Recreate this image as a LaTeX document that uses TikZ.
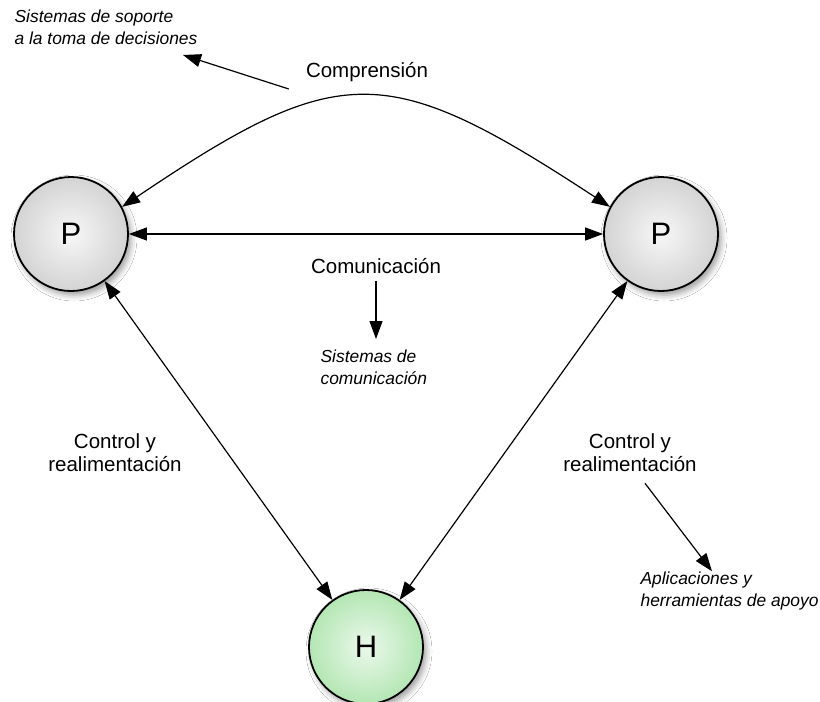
\documentclass[tikz,border=0pt]{standalone}
\usepackage{fontspec}
\setmainfont{Liberation Sans}
\usetikzlibrary{arrows.meta, shadows, shadows.blur, calc}

\definecolor{pgray}{RGB}{176,176,176}
\definecolor{hgreen}{RGB}{124,212,124}
\pgfdeclareradialshading{pball}{\pgfpoint{0bp}{0bp}}{color(0bp)=(white!90!pgray); color(50bp)=(pgray)}
\pgfdeclareradialshading{hball}{\pgfpoint{0bp}{0bp}}{color(0bp)=(white!85!hgreen); color(50bp)=(hgreen)}

\begin{document}
\begin{tikzpicture}[x=0.5pt, y=-0.5pt, >={Triangle[length=9pt,width=6.5pt]}, line width=0.6pt,
	circ/.style={circle, draw, line width=0.9pt, minimum size=57pt, inner sep=0pt, font=\fontsize{15.5}{17}\selectfont,
		blur shadow={shadow xshift=1.5pt, shadow yshift=-2pt, shadow blur radius=3pt, shadow opacity=40}},
	pnode/.style={circ, shading=pball},
	hnode/.style={circ, shading=hball},
	lbl/.style={font=\fontsize{10.25}{11.5}\selectfont, align=center},
	note/.style={font=\itshape\fontsize{8.7}{11}\selectfont, align=left, inner sep=0pt}]
		\path[use as bounding box, fill=white] (0,0) rectangle (820,702);

		\node[pnode] (pl) at (71,234) {P};
		\node[pnode] (pr) at (661,234) {P};
		\node[hnode] (h) at (366,647) {H};

		\node[lbl] (comp) at (367,72) {Comprensión};
		\node[lbl] (comm) at (376,266) {Comunicación};
		\node[lbl] (ctrll) at (115,453) {Control y\\realimentación};
		\node[lbl] (ctrlr) at (630,453) {Control y\\realimentación};
		\node[note, anchor=west] (sop) at (14,27) {Sistemas de soporte\\a la toma de decisiones};
		\node[note, anchor=west] (siscom) at (320,367) {Sistemas de\\comunicación};
		\node[note, anchor=west] (apl) at (640,591) {Aplicaciones y\\herramientas de apoyo};

		\draw[<->] (pl.28) .. controls (340,60) and (386,60) .. (pr.152);
		\draw[<->] (pl) -- (pr);
		\draw[<->] (pl) -- (h);
		\draw[<->] (pr) -- (h);

		\draw[->] ([shift={(-10,17)}]comp.west) -- ([shift={(-15,10)}]sop.south east);
		\draw[->] (comm.south) -- ([yshift=5pt]comm.south |- siscom.north);
		\draw[->] ([shift={(15,4)}]ctrlr.south) -- ([shift={(72,0)}]apl.north west);
\end{tikzpicture}
\end{document}
